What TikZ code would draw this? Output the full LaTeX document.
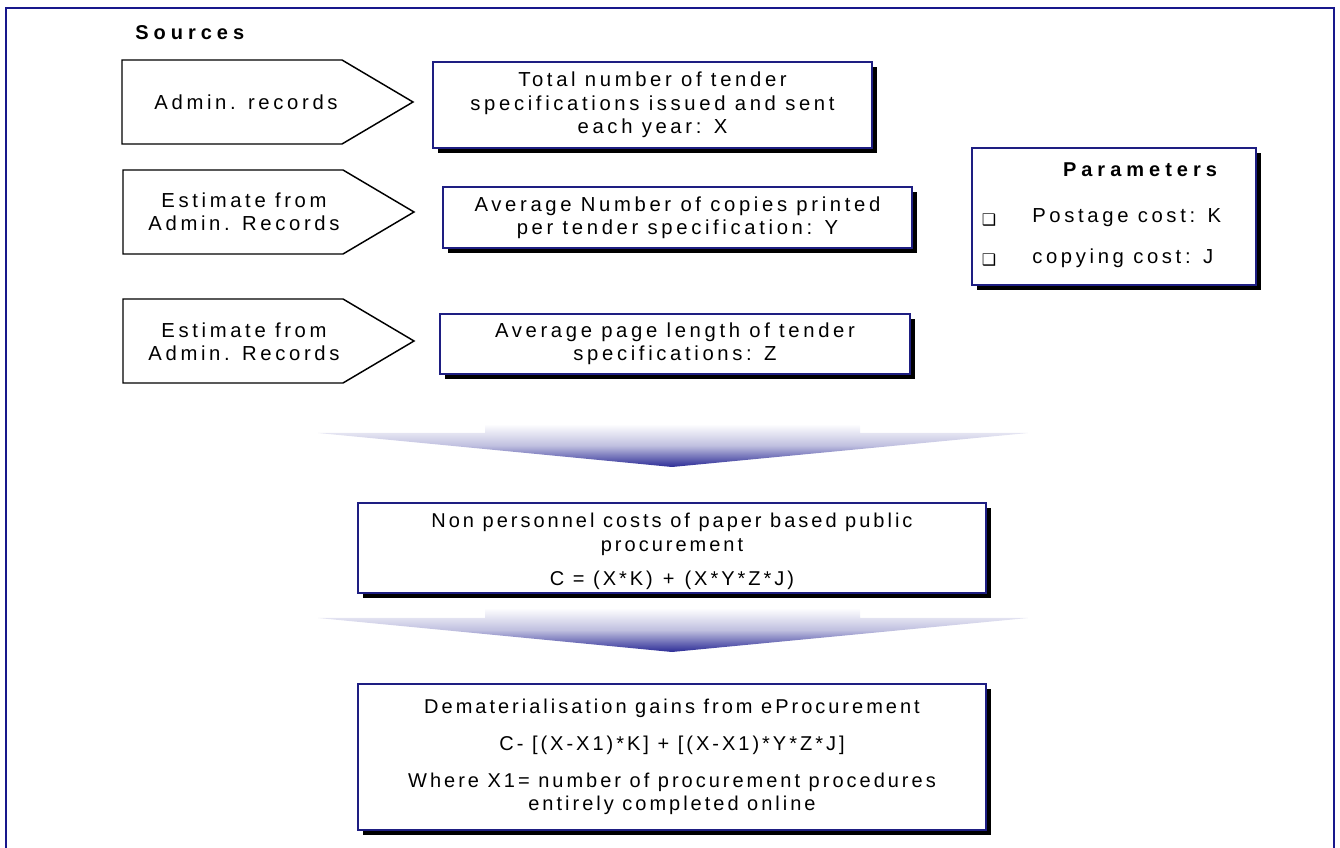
\documentclass[tikz,border=0pt]{standalone}
\usepackage{fontspec}
\setmainfont{Liberation Sans}[LetterSpace=15]
\newfontfamily\widesans{Liberation Sans}[LetterSpace=18, BoldFeatures={LetterSpace=25}]
\newfontfamily\bulletfont{DejaVu Sans}
\usetikzlibrary{shadows}

\definecolor{framenavy}{RGB}{24,24,140}
\definecolor{boxnavy}{RGB}{30,30,130}
\definecolor{funnelblue}{RGB}{44,44,150}

\begin{document}
\begin{tikzpicture}[x=0.75pt,y=-0.75pt,
  txt/.style={font=\fontsize{15}{17.6}\selectfont, align=center, inner sep=0pt},
  widetxt/.style={font=\widesans\fontsize{15.2}{17.6}\selectfont, align=center, inner sep=0pt},
  headtxt/.style={font=\widesans\fontsize{15}{17.6}\selectfont\bfseries, inner sep=0pt},
  bullet/.style={inner sep=0pt, font=\bulletfont\fontsize{12}{12}\selectfont},
  sourceshape/.style={draw=black, line width=1.1pt, fill=white, line join=miter},
  infobox/.style={draw=boxnavy, line width=1.4pt, fill=white,
    general shadow={fill=black, shadow xshift=3.8pt, shadow yshift=-3.6pt}},
  funnel/.style={top color=white, bottom color=funnelblue, middle color=funnelblue!30},
  frame/.style={draw=framenavy, line width=2pt}]

\useasboundingbox (0,0) rectangle (1340,848);

% outer frame (open at the bottom edge of the page)
\draw[frame] (6,880) -- (6,8) -- (1334,8) -- (1334,880);

% heading of the source column
\node[headtxt, anchor=west] (srchead) at (135,33) {Sources};

% source arrows
\draw[sourceshape] (122,60) -- (342,60) -- (413,102) -- (342,144) -- (122,144) -- cycle;
\node[widetxt] (src1) at (246,102) {Admin. records};

\draw[sourceshape] (123,170) -- (343,170) -- (414,212) -- (343,254) -- (123,254) -- cycle;
\node[widetxt] (src2) at (244,212) {Estimate from\\Admin. Records};

\draw[sourceshape] (123,299) -- (343,299) -- (414,341) -- (343,383) -- (123,383) -- cycle;
\node[widetxt] (src3) at (244,342) {Estimate from\\Admin. Records};

% quantities taken from the sources
\node[infobox, widetxt, minimum width=439*0.75pt, minimum height=86*0.75pt] (qX) at (652.5,105)
  {Total number of tender\\specifications issued and sent\\each year: X};
\node[infobox, widetxt, minimum width=469*0.75pt, minimum height=61*0.75pt] (qY) at (677.5,217.5)
  {Average Number of copies printed\\per tender specification: Y};
\node[infobox, widetxt, minimum width=470*0.75pt, minimum height=60*0.75pt] (qZ) at (675,344)
  {Average page length of tender\\specifications: Z};

% parameters panel
\node[infobox, minimum width=284*0.75pt, minimum height=137*0.75pt] (params) at (1114,216.5) {};
\node[headtxt] (paramhead) at (1140,170) {Parameters};
\node[bullet] (bulK) at (989,220) {❑};
\node[widetxt, anchor=west] (parK) at (1032,218) {Postage cost: K};
\node[bullet] (bulJ) at (989,260) {❑};
\node[widetxt, anchor=west] (parJ) at (1032,258) {copying cost: J};

% funnel arrows
\shade[funnel] (318,433) -- (485,433) -- (485,424) -- (860,424) -- (860,433)
  -- (1028,433) -- (672,467) -- cycle;
\shade[funnel] (318,618) -- (485,618) -- (485,608) -- (860,608) -- (860,618)
  -- (1028,618) -- (672,652) -- cycle;

% results
\node[infobox, txt, minimum width=628*0.75pt, minimum height=90*0.75pt] (cost) at (672,548)
  {\rule{0pt}{16pt}Non personnel costs of paper based public\\procurement\\[8pt]C = (X*K)\enspace+\enspace(X*Y*Z*J)};
\node[infobox, txt, minimum width=628*0.75pt, minimum height=146*0.75pt] (gain) at (672,757)
  {Dematerialisation gains from eProcurement\\[10pt]C- [(X-X1)*K] + [(X-X1)*Y*Z*J]\\[10pt]Where X1= number of procurement procedures\\entirely completed online};

\end{tikzpicture}
\end{document}
